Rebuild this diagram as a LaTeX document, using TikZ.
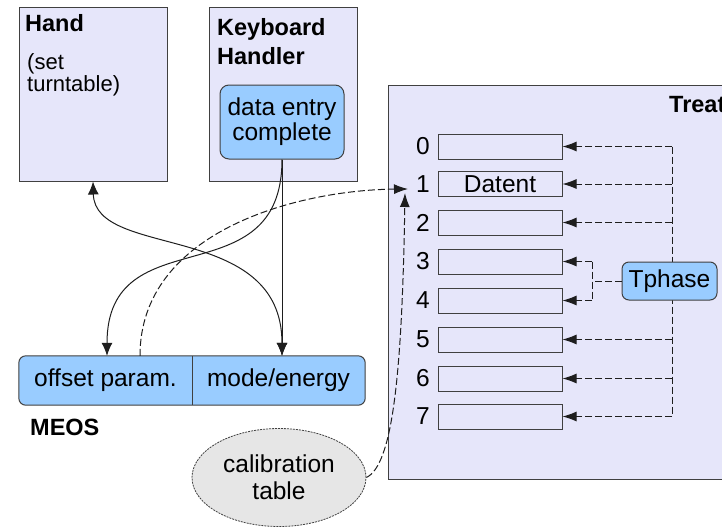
\documentclass[tikz,border=0pt]{standalone}
\usepackage{fontspec}
\setmainfont{Liberation Sans}
\usetikzlibrary{arrows.meta,shapes.geometric,backgrounds,calc}
\definecolor{boxfill}{RGB}{230,230,250}
\definecolor{bluefill}{RGB}{153,204,255}
\definecolor{grayfill}{RGB}{230,230,230}
\definecolor{edge}{RGB}{64,64,64}
\definecolor{wire}{RGB}{30,30,30}
\begin{document}
\begin{tikzpicture}[x=1pt,y=-1pt,
  txt/.style={font=\fontsize{24.5}{25}\selectfont},
  ttl/.style={font=\fontsize{23.5}{29}\selectfont\bfseries},
  bigbox/.style={draw=edge,fill=boxfill,line width=1pt,inner sep=0pt,minimum width=148pt,minimum height=173pt},
  bluebox/.style={txt,draw=edge,fill=bluefill,line width=1pt,rounded corners=9pt,inner sep=0pt,align=center},
  slotbox/.style={txt,draw=edge,fill=boxfill,line width=1pt,inner sep=0pt,minimum width=124pt,minimum height=25pt},
  numlab/.style={txt,inner sep=2pt},
  tip/.style={-{Latex[length=13pt,width=11pt]}},
  arr/.style={draw=wire,line width=1pt,tip},
  arrboth/.style={draw=wire,line width=1pt,{Latex[length=13pt,width=11pt]}-{Latex[length=13pt,width=11pt]}},
  dline/.style={draw=wire,line width=1pt,dash pattern=on 7pt off 3pt},
  darr/.style={dline,-{Latex[length=14pt,width=10pt]}},
]
\useasboundingbox (0,0) rectangle (722,527);
\clip (0,0) rectangle (722,527);

% Hand
\node[bigbox] (hand) at (93,94.5) {};
\node[ttl,anchor=base west,inner sep=0pt] (handt) at (25,32) {Hand};
\node[txt,anchor=base west,inner sep=0pt,align=left,font=\fontsize{22}{21}\selectfont] (handn) at (27,91) {(set\\turntable)};

% Keyboard handler
\node[bigbox] (kbh) at (283,94.5) {};
\node[ttl,anchor=north west,inner sep=0pt,align=left] (kbht) at (217,18) {Keyboard\\Handler};
\node[bluebox,minimum width=124pt,minimum height=74pt] (dec) at (282,122) {data entry\\complete};

% Treat
\node[draw=edge,fill=boxfill,line width=1pt,minimum width=372pt,minimum height=394pt,inner sep=0pt] (treat) at (574,282) {};
\node[ttl,anchor=base west,inner sep=0pt] (treatt) at (669,112) {Treat};

\foreach \i/\y/\t in {0/146.5/,1/184/Datent,2/222.5/,3/261.5/,4/300.5/,5/339.5/,6/378.5/,7/416.5/}{
  \node[slotbox] (s\i) at (500,\y) {\t};
  \node[numlab] (l\i) at (423,\y) {\i};
}

\coordinate (bus) at (672,0);
\coordinate (fork) at (592,0);
\draw[dline] (bus|-s0.east) -- (bus|-s7.east);
\foreach \i in {0,1,2,5,6,7}{
  \draw[darr] (bus|-s\i.east) -- (s\i.east);
}
\node[bluebox,minimum width=95pt,minimum height=38pt,rounded corners=7pt] (tp) at (669.5,281) {Tphase};
\draw[dline] (tp.west) -- (fork|-tp.west);
\draw[dline] (fork|-s3.east) -- (fork|-s4.east);
\draw[darr] (fork|-s3.east) -- (s3.east);
\draw[darr] (fork|-s4.east) -- (s4.east);

% MEOS
\node[txt,minimum width=173pt,minimum height=49pt,inner sep=0pt] (off) at (105.5,380.5) {offset param.};
\node[txt,minimum width=173pt,minimum height=49pt,inner sep=0pt] (mode) at (278.5,380.5) {mode/energy};
\begin{scope}[on background layer]
  \filldraw[fill=bluefill,draw=edge,line width=1pt,rounded corners=7pt] (off.north west) rectangle (mode.south east);
  \draw[edge,line width=1pt] (off.north east) -- (off.south east);
\end{scope}
\node[ttl,anchor=base west,inner sep=0pt] (meos) at (30,435) {MEOS};

% calibration table
\node[ellipse,txt,align=center,draw=edge,dash pattern=on 2pt off 1pt,line width=0.8pt,fill=grayfill,minimum width=174pt,minimum height=98pt,inner sep=0pt,font=\fontsize{24.5}{27}\selectfont] (cal) at (279,477.5) {calibration\\table};

% connectors
\coordinate (modein) at (dec.south |- mode.north);
\coordinate (offin) at ($(off.north)+(1.5,0)$);
\coordinate (offout) at ($(off.north)+(34.5,0)$);
\coordinate (in1h) at ($(l1.west)+(-6,5)$);
\coordinate (in1v) at ($(l1.west)+(-9,9)$);

\draw[arr] (dec.south) -- (modein);
\draw[arr] (dec.south) .. controls (282,300) and (107,215) .. (offin);
\draw[arrboth] (hand.south) .. controls (95,260) and (282,220) .. (modein);
\draw[darr] (offout) .. controls (140,230) and (300,190) .. (in1h);
\draw[darr] (cal.east) .. controls (392,465) and (402,380) .. (in1v);
\end{tikzpicture}
\end{document}
